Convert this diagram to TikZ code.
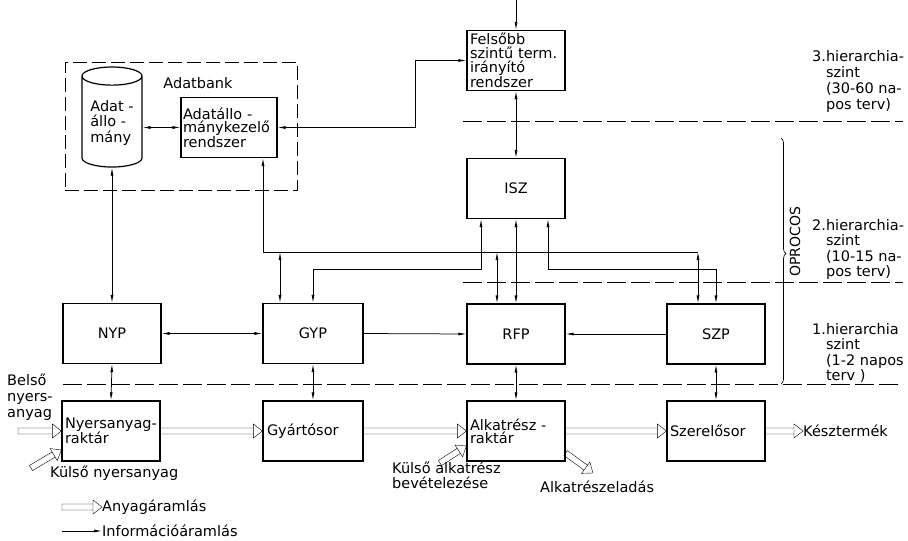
\documentclass[tikz,border=0pt]{standalone}
\usepackage{fontspec}
\setmainfont{DejaVu Sans}
\usetikzlibrary{arrows.meta, positioning, calc, shapes.geometric, decorations.pathreplacing}

\begin{document}
\begin{tikzpicture}[x=1pt, y=-1pt, font=\fontsize{14.5}{13}\selectfont,
    blk/.style={draw, line width=1.2pt, minimum width=98pt, minimum height=60pt, inner sep=2pt},
    lblk/.style={blk, align=left, text width=92pt},
    dbase/.style={cylinder, shape border rotate=90, draw, line width=1.2pt, aspect=0.4,
        minimum width=60pt, minimum height=100pt, inner sep=1pt},
    info/.style={line width=0.75pt, -{Latex[length=8pt, width=3pt]}},
    info2/.style={line width=0.75pt, {Latex[length=8pt, width=3pt]}-{Latex[length=8pt, width=3pt]}},
    divider/.style={line width=0.9pt, dash pattern=on 19pt off 5pt},
    note/.style={align=left, inner sep=0pt, font=\fontsize{14.5}{16}\selectfont},
    matflow/.style={line width=0.9pt, to path={
        ($(\tikztostart)!3pt!90:(\tikztotarget)$) -- ($(\tikztotarget)!9pt!(\tikztostart)!3pt!-90:(\tikztostart)$)
        ($(\tikztostart)!3pt!-90:(\tikztotarget)$) -- ($(\tikztotarget)!9pt!(\tikztostart)!3pt!90:(\tikztostart)$)
        ($(\tikztostart)!3pt!90:(\tikztotarget)$) -- ($(\tikztostart)!3pt!-90:(\tikztotarget)$)
        ($(\tikztotarget)!9pt!(\tikztostart)!7pt!-90:(\tikztostart)$) -- (\tikztotarget)
        -- ($(\tikztotarget)!9pt!(\tikztostart)!7pt!90:(\tikztostart)$) -- cycle}}]

    \useasboundingbox (0, 0) rectangle (908, 541);

    % adatbank
    \node [draw, line width=0.8pt, dash pattern=on 14pt off 5pt, minimum width=232pt, minimum height=128pt] (dbank) at (181, 126) {};
    \node (dbanklbl) at (198, 83) {Adatbank};
    \node [dbase] (cyl) at (112, 123) {\raisebox{-7pt}{\begin{tabular}{@{}l@{}}Adat -\\állo -\\mány\end{tabular}}};
    \node [lblk, minimum width=96pt] (kez) at (229, 127.5) {Adatállo -\\mánykezelő\\rendszer};

    % upper levels
    \node [lblk, font=\fontsize{14.5}{14}\selectfont] (fel) at (516, 60.5) {Felsőbb\\szintű term.\\irányító\\rendszer};
    \node [blk] (isz) at (516, 188.5) {ISZ};

    % planning row
    \node [blk] (nyp) at (112, 333.5) {NYP};
    \node [blk, minimum width=100pt] (gyp) at (313, 333.5) {GYP};
    \node [blk] (rfp) at (516, 334) {RFP};
    \node [blk] (szp) at (716, 334) {SZP};

    % material row
    \node [lblk] (nyr) at (111, 431) {Nyersanyag-\\raktár};
    \node [lblk, minimum width=100pt] (gys) at (313, 431) {Gyártósor};
    \node [lblk] (alk) at (516, 431) {Alkatrész -\\raktár};
    \node [lblk] (szr) at (716, 431) {Szerelősor};

    % level dividers
    \draw [divider] (463, 121) -- (903, 121);
    \draw [divider] (463, 282) -- (903, 282);
    \draw [divider] (63, 384) -- (903, 384);

    % level labels
    \node [note, anchor=north west] (lvl3) at (812, 50) {3.hierarchia-\\\phantom{3.}szint\\\phantom{3.}(30-60 na-\\\phantom{3.}pos terv)};
    \node [note, anchor=north west, font=\fontsize{14.5}{15.5}\selectfont] (lvl2) at (812, 219) {2.hierarchia-\\\phantom{2.}szint\\\phantom{2.}(10-15 na-\\\phantom{2.}pos terv)};
    \node [note, anchor=north west, font=\fontsize{14.5}{15.5}\selectfont] (lvl1) at (812, 323) {1.hierarchia\\\phantom{1.}szint\\\phantom{1.}(1-2 napos\\\phantom{1.}terv )};
    \node [rotate=90, font=\fontsize{14}{14}\selectfont] (oprocos) at (795, 242) {OPROCOS};
    \draw [line width=0.7pt, decorate, decoration={brace, amplitude=5pt, aspect=0.47}] (781, 138) -- (781, 384);

    % information flow
    \draw [info] ([yshift=30pt]fel.north) -- (fel.north);
    \draw [info2] (fel.south) -- (isz.north);
    \draw [info2] (kez.east) -- ++(138, 0) |- (fel.west);
    \draw [info2] (cyl.east |- kez.west) -- (kez.west);
    \draw [info2] (cyl.south) -- (nyp.north);

    \coordinate (busW) at (263, 252);
    \coordinate (busE) at (698, 252);
    \draw [info] (busE) -- (busW) -- (kez.south -| busW);
    \draw [info2] ([xshift=-33pt]gyp.north |- busW) -- ([xshift=-33pt]gyp.north);
    \draw [info2] ([xshift=-19pt]rfp.north |- busW) -- ([xshift=-19pt]rfp.north);
    \draw [info2] (busE) -- (busE |- szp.north);

    \draw [info2] ([xshift=-35pt]isz.south) -- ++(0, 50) -| (gyp.north);
    \draw [info2] (isz.south) -- (rfp.north);
    \draw [info2] ([xshift=32pt]isz.south) -- ++(0, 50) -| (szp.north);

    \draw [info2] (nyp.east) -- (gyp.west);
    \draw [info] (gyp.east) -- (rfp.west);
    \draw [info] (szp.west) -- (rfp.east);

    \draw [info2] (nyp.south) -- (nyr.north);
    \draw [info2] (gyp.south) -- (gys.north);
    \draw [info2] (rfp.south) -- (alk.north);
    \draw [info2] (szp.south) -- (szr.north);

    % material flow
    \node [note, anchor=north west] (belso) at (7, 374) {Belső\\nyers-\\anyag};
    \coordinate (belsoA) at (18, 431);
    \draw (belsoA) to [matflow] (nyr.west);

    \node [note, anchor=west] (kulsonyt) at (50, 473) {Külső nyersanyag};
    \coordinate (kulsoA) at (31, 468);
    \draw (kulsoA) to [matflow] ($(nyr.west)+(0, 19)$);

    \node [note, anchor=north west, font=\fontsize{14.5}{15}\selectfont] (kulsoalk) at (392, 462) {Külső alkatrész\\bevételezése};
    \coordinate (kalkA) at (440, 463);
    \draw (kalkA) to [matflow] ($(alk.west)+(0, 15)$);

    \node [note, anchor=west] (elad) at (540, 487) {Alkatrészeladás};
    \coordinate (eladB) at (593, 473);
    \draw ($(alk.east)+(0, 22)$) to [matflow] (eladB);

    \draw (nyr.east) to [matflow] (gys.west);
    \draw (gys.east) to [matflow] (alk.west);
    \draw (alk.east) to [matflow] (szr.west);

    \node [note, anchor=west] (kesz) at (803, 431) {Késztermék};
    \draw (szr.east) to [matflow] (kesz.west);

    % legend
    \node [note, anchor=west] (lgmat) at (102, 507) {Anyagáramlás};
    \coordinate (lgmatA) at (62, 507);
    \draw (lgmatA) to [matflow] (lgmat.west);
    \node [note, anchor=west] (lginf) at (102, 531) {Információáramlás};
    \coordinate (lginfA) at (62, 531);
    \draw [info] (lginfA) -- (lginf.west);
\end{tikzpicture}
\end{document}
